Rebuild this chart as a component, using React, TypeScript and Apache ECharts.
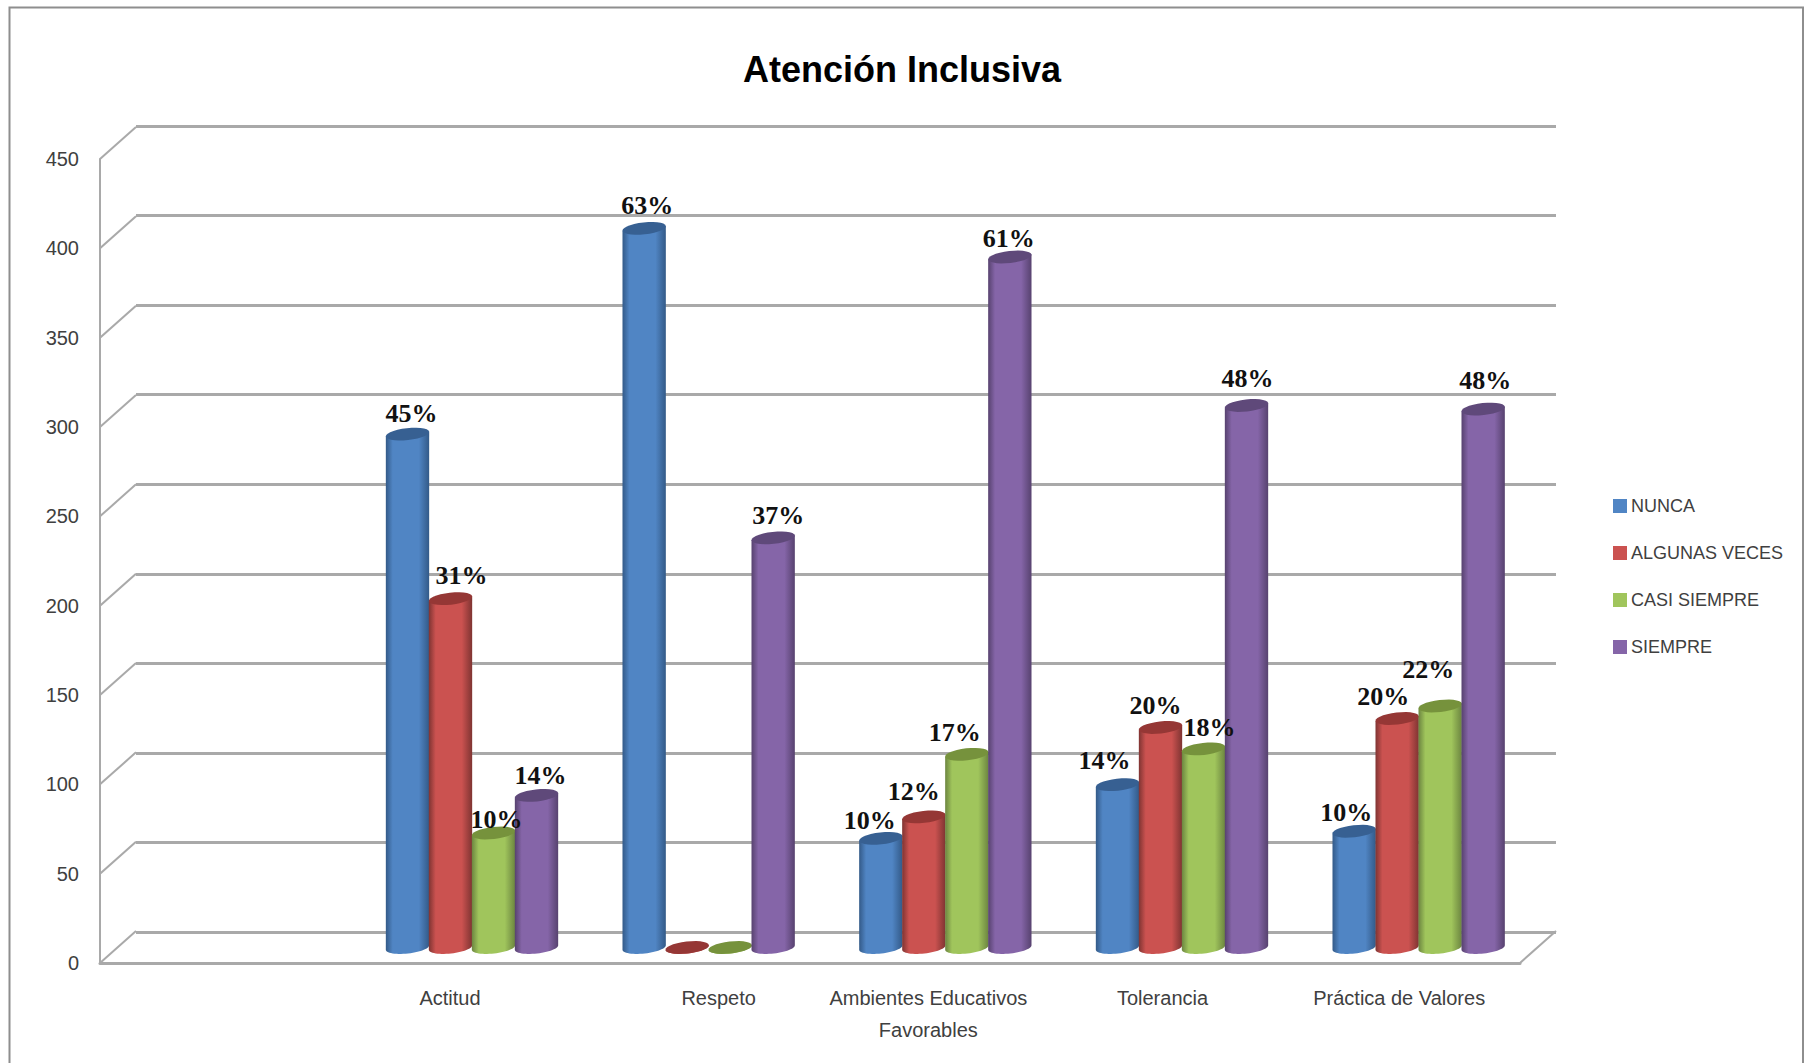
import React, { useEffect, useRef } from "react";
import * as echarts from "echarts";

const chartTitle = "Atención Inclusiva";
const categories = ["", "Actitud", "Respeto", "Ambientes Educativos\nFavorables", "Tolerancia", "Práctica de Valores"];
const valueTicks = [0, 50, 100, 150, 200, 250, 300, 350, 400, 450];

const seriesNames = ["NUNCA", "ALGUNAS VECES", "CASI SIEMPRE", "SIEMPRE"];
const nunca = [null, 287, 402, 61, 91, 65];
const algunasVeces = [null, 195, 0, 73, 123, 128];
const casiSiempre = [null, 64, 0, 108, 111, 135];
const siempre = [null, 85, 229, 386, 303, 301];

const nuncaLabels = ["", "45%", "63%", "10%", "14%", "10%"];
const algunasLabels = ["", "31%", "", "12%", "20%", "20%"];
const casiLabels = ["", "10%", "", "17%", "18%", "22%"];
const siempreLabels = ["", "14%", "37%", "61%", "48%", "48%"];

// hand placement of the data labels, relative to the top of each cylinder
const nudgeX = [
  [0, 4, 3, -11, -13, -8],
  [0, 11, 0, -10, -5, -14],
  [0, 3, 0, -12, 6, -12],
  [0, 4, 5, -1, 1, 2],
];
const nudgeY = [
  [0, -21, -23, -18, -24, -19],
  [0, -23, 0, -25, -22, -22],
  [0, -14, 0, -22, -21, -37],
  [0, -20, -22, -18, -27, -29],
];

const valueSets = [nunca, algunasVeces, casiSiempre, siempre];
const labelSets = [nuncaLabels, algunasLabels, casiLabels, siempreLabels];

const bodyColors = ["#5085c4", "#cb5250", "#a0c55c", "#8565a8"];
const edgeColors = ["#335a88", "#7f3432", "#6c8540", "#57426f"];
const capColors = ["#376092", "#953735", "#76923c", "#5f497a"];

const GRID_LINE = "#a9a9a9";
const DEPTH_X = 36;
const DEPTH_Y = -32;
const RX = 21.8;
const RY = 6;
const TILT = -0.11;

function ellipsePoint(cx: number, cy: number, a: number): number[] {
  const ex = RX * Math.cos(a);
  const ey = RY * Math.sin(a);
  return [cx + ex * Math.cos(TILT) - ey * Math.sin(TILT), cy + ex * Math.sin(TILT) + ey * Math.cos(TILT)];
}

function arc(cx: number, cy: number, from: number, to: number): number[][] {
  const pts: number[][] = [];
  const steps = 28;
  for (let i = 0; i <= steps; i++) pts.push(ellipsePoint(cx, cy, from + ((to - from) * i) / steps));
  return pts;
}

function cylinder(seriesIndex: number) {
  return (params: any, api: any) => {
    const cat = api.value(0);
    const val = api.value(1);
    const band = api.size([1, 0])[0];
    const barW = band * 0.1817;
    const top = api.coord([cat, val]);
    const base = api.coord([cat, 0]);
    const cx = top[0] - 1 + (seriesIndex - 1.5) * barW;
    const bodyPts = [ellipsePoint(cx, top[1], Math.PI), ...arc(cx, base[1], Math.PI, 0), ellipsePoint(cx, top[1], 0)];
    const fill = new echarts.graphic.LinearGradient(0, 0, 1, 0, [
      { offset: 0, color: edgeColors[seriesIndex] },
      { offset: 0.16, color: bodyColors[seriesIndex] },
      { offset: 0.76, color: bodyColors[seriesIndex] },
      { offset: 1, color: edgeColors[seriesIndex] },
    ]);
    const children: any[] = [
      { type: "polygon", shape: { points: bodyPts }, style: { fill } },
      { type: "polygon", shape: { points: arc(cx, top[1], 0, Math.PI * 2) }, style: { fill: capColors[seriesIndex] } },
    ];
    const text = labelSets[seriesIndex][cat];
    if (text) {
      children.push({
        type: "text",
        z2: 100,
        x: cx + nudgeX[seriesIndex][cat],
        y: top[1] + nudgeY[seriesIndex][cat],
        style: {
          text,
          fill: "#111111",
          font: 'bold 26px "Liberation Serif"',
          align: "center",
          verticalAlign: "middle",
        },
      });
    }
    return { type: "group", children };
  };
}

function depthLines(params: any, api: any) {
  const v = api.value(1);
  const p = api.coord([0, v]);
  const style = { stroke: GRID_LINE, lineWidth: 2, fill: "none" };
  const box = params.coordSys;
  const children: any[] = [
    { type: "line", shape: { x1: box.x, y1: p[1], x2: box.x + DEPTH_X, y2: p[1] + DEPTH_Y }, style },
  ];
  if (v === 0) {
    const right = box.x + box.width;
    children.push({ type: "line", shape: { x1: right, y1: p[1], x2: right + DEPTH_X, y2: p[1] + DEPTH_Y }, style });
  }
  return { type: "group", children };
}

const xLabelFont = { fontFamily: "Liberation Sans", fontSize: 20, color: "#404040" };

export default function App() {
  const ref = useRef<HTMLDivElement>(null);

  useEffect(() => {
    const prevMargin = document.body.style.margin;
    document.body.style.margin = "0";
    const chart = echarts.init(ref.current!, undefined, { renderer: "svg" });
    const valueAxisBase = { type: "value", min: 0, max: 450, interval: 50 };
    const categoryData = categories.map((c) => {
      if (c === "Respeto") return { value: c, textStyle: { padding: [0, 0, 6, 54] } };
      if (c === "Actitud") return { value: c, textStyle: { padding: [0, 10, 0, 0] } };
      if (c === "Tolerancia" || c === "Práctica de Valores") return { value: c, textStyle: { padding: [0, 5, 0, 0] } };
      return c;
    });
    chart.setOption({
      animation: false,
      backgroundColor: "#ffffff",
      title: {
        text: chartTitle,
        left: 897,
        top: 46,
        textAlign: "center",
        textStyle: { fontFamily: "Liberation Sans", fontWeight: "bold", fontSize: 36, color: "#000000" },
      },
      legend: {
        orient: "vertical",
        left: 1613,
        top: 497,
        padding: 0,
        itemWidth: 14,
        itemHeight: 14,
        itemGap: 29,
        icon: "rect",
        data: seriesNames,
        textStyle: { fontFamily: "Liberation Sans", fontSize: 18, color: "#404040", padding: [0, 0, 0, -1] },
      },
      grid: [
        { left: 100, top: 159, width: 1420, height: 804 },
        { left: 136, top: 126, width: 1420, height: 806 },
        { left: 118, top: 142.5, width: 1420, height: 805 },
      ],
      xAxis: [
        {
          type: "category",
          gridIndex: 0,
          data: categoryData,
          axisLine: { show: true, lineStyle: { color: GRID_LINE, width: 3 } },
          axisTick: { show: false },
          axisLabel: { interval: 0, margin: 19, lineHeight: 32, ...xLabelFont },
        },
        { type: "category", gridIndex: 1, data: categories, show: false },
        { type: "category", gridIndex: 2, data: categories, show: false },
      ],
      yAxis: [
        {
          ...valueAxisBase,
          gridIndex: 0,
          axisLine: { show: true, lineStyle: { color: GRID_LINE, width: 2 } },
          axisTick: { show: false },
          splitLine: { show: false },
          axisLabel: {
            margin: 21,
            fontFamily: "Liberation Sans",
            fontSize: 20,
            color: "#404040",
            customValues: valueTicks,
          },
        },
        {
          ...valueAxisBase,
          gridIndex: 1,
          axisLine: { show: false },
          axisTick: { show: false },
          axisLabel: { show: false },
          splitLine: { show: true, lineStyle: { color: GRID_LINE, width: 3 } },
        },
        { ...valueAxisBase, gridIndex: 2, show: false },
      ],
      series: [
        {
          type: "custom",
          name: "profundidad",
          xAxisIndex: 0,
          yAxisIndex: 0,
          clip: false,
          silent: true,
          renderItem: depthLines,
          encode: { x: 0, y: 1 },
          data: valueTicks.map((v) => [0, v]),
        },
        ...seriesNames.map((name, s) => ({
          type: "custom",
          name,
          xAxisIndex: 2,
          yAxisIndex: 2,
          clip: false,
          itemStyle: { color: bodyColors[s] },
          renderItem: cylinder(s),
          encode: { x: 0, y: 1 },
          data: valueSets[s].map((v, i) => [i, v]).filter((d) => d[1] !== null),
        })),
      ],
      graphic: [
        {
          type: "polyline",
          silent: true,
          shape: { points: [[9.5, 1063], [9.5, 7.5], [1803, 7.5], [1803, 1063]] },
          style: { stroke: "#8e8e8e", lineWidth: 2, fill: "none" },
        },
      ],
    });
    return () => {
      chart.dispose();
      document.body.style.margin = prevMargin;
    };
  }, []);

  return <div ref={ref} style={{ width: 1806, height: 1063, overflow: "hidden" }} />;
}
